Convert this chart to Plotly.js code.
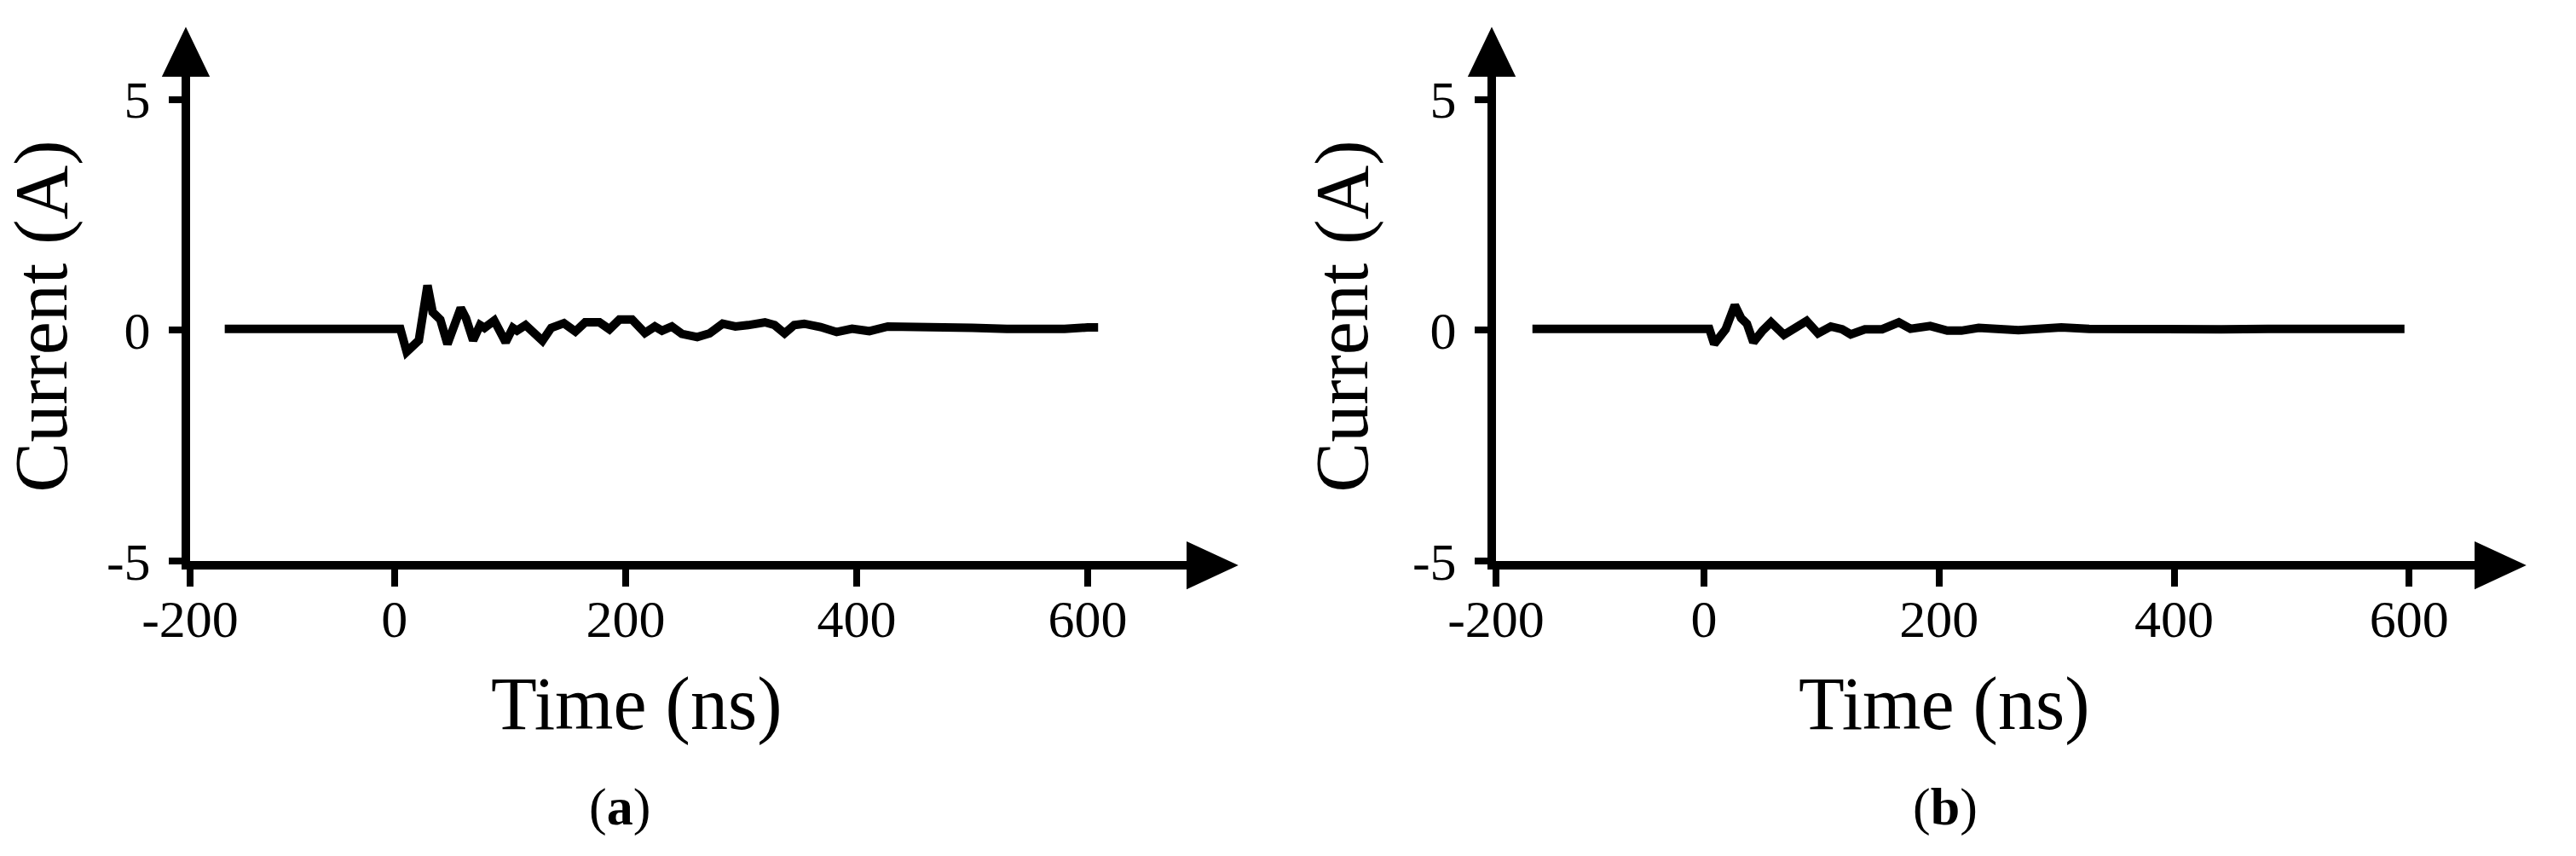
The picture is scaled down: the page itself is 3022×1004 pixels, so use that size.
<!DOCTYPE html>
<html>
<head>
<meta charset="utf-8">
<script src="https://cdn.plot.ly/plotly-3.0.1.min.js"></script>
<style>
  body { margin: 0; background: #fff; }
  #plot { width: 3022px; height: 1004px; }
</style>
</head>
<body>
<div id="plot"></div>
<script>
// (a) current waveform
var timeA = [-147, -120, -90, -60, -30, 0, 5, 10.5, 16, 21, 28.5, 33, 39.6, 45.8, 57.3, 61.8,
  68, 74, 77.8, 86.3, 96.2, 102.4, 106, 113.4, 128, 135.6, 146.6, 156.5, 165, 177.4, 186,
  194.6, 205.6, 216.7, 225.3, 231.5, 240, 248.7, 262, 272.7, 284, 295, 306, 320.6, 329,
  337.6, 346, 354.6, 368.7, 382.7, 396, 411, 427, 445, 470, 500, 530, 560, 580, 600, 609];
var currentA = [0.03, 0.03, 0.02, 0.03, 0.03, 0.03, 0.03, -0.47, -0.32, -0.22, 0.97, 0.39, 0.23, -0.30, 0.48, 0.26,
  -0.22, 0.11, 0.05, 0.21, -0.26, 0.05, -0.01, 0.11, -0.23, 0.05, 0.15, -0.03, 0.17, 0.17, 0.02,
  0.23, 0.23, -0.06, 0.08, -0.01, 0.08, -0.08, -0.15, -0.07, 0.14, 0.08, 0.11, 0.17, 0.11,
  -0.07, 0.11, 0.14, 0.07, -0.04, 0.03, -0.02, 0.08, 0.08, 0.06, 0.05, 0.03, 0.01, 0.03, 0.06, 0.06];

// (b) current waveform
var timeB = [-146, -110, -70, -35, 0, 4.5, 8.7, 14.8, 18.4, 26.2, 31.6, 36.5, 42, 49.8, 57, 68,
  76.4, 87.3, 97, 107.9, 117.5, 124.8, 136.9, 151.5, 165.8, 175.7, 192.5, 207, 219, 233.7,
  267.5, 294, 304, 327.7, 360, 400, 440, 480, 520, 560, 596];
var currentB = [0.03, 0.03, 0.02, 0.03, 0.03, 0.03, -0.30, -0.13, 0.02, 0.54, 0.26, 0.14, -0.26, -0.01, 0.17, -0.10,
  0.05, 0.20, -0.07, 0.08, 0.02, -0.09, 0.02, 0.02, 0.17, 0.03, 0.09, -0.01, -0.01, 0.05,
  0.0, 0.06, 0.06, 0.03, 0.02, 0.03, 0.02, 0.03, 0.02, 0.02, 0.03];

// tick labels (in the figure the -200 tick sits on the y axis)
var xTickText = ['-200', '0', '200', '400', '600'];
var xTickValsA = [-177, 0, 200, 400, 600];
var xTickValsB = [-177, 0, 200, 400, 600];
var yTickVals = [-5, 0, 5];
var yTickText = ['-5', '0', '5'];

var serif = '"Liberation Serif", "Times New Roman", serif';

var traceA = {
  x: timeA, y: currentA, xaxis: 'x', yaxis: 'y',
  type: 'scatter', mode: 'lines',
  line: {color: 'black', width: 10}
};
var traceB = {
  x: timeB, y: currentB, xaxis: 'x2', yaxis: 'y2',
  type: 'scatter', mode: 'lines',
  line: {color: 'black', width: 10}
};

function xAxis(domain, range, vals, anchor) {
  return {
    domain: domain, range: range, anchor: anchor,
    showline: true, linecolor: 'black', linewidth: 10,
    ticks: 'outside', ticklen: 20, tickwidth: 8, tickcolor: 'black',
    tickvals: vals, ticktext: xTickText, ticklabelstandoff: -15,
    tickfont: {family: serif, size: 62, color: 'black'},
    showgrid: false, zeroline: false, fixedrange: true
  };
}
function yAxis(anchor) {
  return {
    domain: [0.3446, 0.9163], range: [-5, 5.6], anchor: anchor,
    showline: true, linecolor: 'black', linewidth: 10,
    ticks: 'outside', ticklen: 15, tickwidth: 8, tickcolor: 'black',
    tickvals: yTickVals, ticktext: yTickText, ticklabelstandoff: 9,
    tickfont: {family: serif, size: 62, color: 'black'},
    title: {text: 'Current (A)', font: {family: serif, size: 88, color: 'black'}, standoff: 27},
    showgrid: false, zeroline: false, fixedrange: true
  };
}

// arrow heads on the axis ends
function arrows(xr, yr) {
  return [
    {type: 'path', xref: xr + ' domain', yref: yr + ' domain', xsizemode: 'pixel', ysizemode: 'pixel',
      xanchor: 1, yanchor: 0, path: 'M -4,20 L 50,-5 L -4,-30 Z',
      fillcolor: 'black', line: {color: 'black', width: 4}},
    {type: 'path', xref: xr + ' domain', yref: yr + ' domain', xsizemode: 'pixel', ysizemode: 'pixel',
      xanchor: 0, yanchor: 1, path: 'M -30,-4 L -5,48 L 20,-4 Z',
      fillcolor: 'black', line: {color: 'black', width: 4}}
  ];
}

function label(text, x, y, size) {
  return {text: text, x: x, y: y, xref: 'paper', yref: 'paper', showarrow: false,
    xanchor: 'center', yanchor: 'middle', font: {family: serif, size: size, color: 'black'}};
}

var layout = {
  width: 3022, height: 1004,
  margin: {l: 0, r: 0, t: 0, b: 0},
  paper_bgcolor: 'white', plot_bgcolor: 'white',
  showlegend: false,
  xaxis: xAxis([0.07379, 0.46261], [-177, 690], xTickValsA, 'y'),
  yaxis: yAxis('x'),
  xaxis2: xAxis([0.58074, 0.96261], [-177, 660], xTickValsB, 'y2'),
  yaxis2: yAxis('x2'),
  shapes: arrows('x', 'y').concat(arrows('x2', 'y2')),
  annotations: [
    label('Time (ns)', 0.2469, 0.1773, 88),
    label('(<b>a</b>)', 0.2406, 0.0568, 62),
    label('Time (ns)', 0.7545, 0.1773, 88),
    label('(<b>b</b>)', 0.7551, 0.0568, 62)
  ]
};

Plotly.newPlot('plot', [traceA, traceB], layout, {displayModeBar: false, staticPlot: true});
</script>
</body>
</html>
